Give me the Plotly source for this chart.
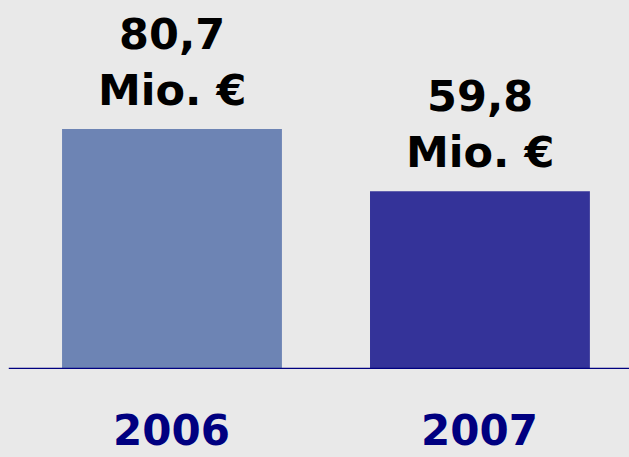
import plotly.graph_objects as go

years = ["2006", "2007"]
values = [80.7, 59.8]
value_labels = ["80,7<br>Mio. €", "59,8<br>Mio. €"]
bar_colors = ["#6d84b4", "#343399"]

xpos = list(range(len(years)))
fig = go.Figure()
fig.add_trace(go.Bar(x=xpos, y=values, marker=dict(color=bar_colors, line=dict(width=0)),
                     width=0.714, hoverinfo="skip"))

for x, v, lab in zip(xpos, values, value_labels):
    fig.add_annotation(x=x, y=v, text="<b>" + lab + "</b>", showarrow=False, yanchor="bottom",
                       yshift=12, font=dict(family="DejaVu Sans", size=43, color="#000000"),
                       xref="x", yref="y")
for x, yr in zip(xpos, years):
    fig.add_annotation(x=x, y=0, text="<b>" + yr + "</b>", showarrow=False, yanchor="bottom",
                       yshift=-87, borderpad=0,
                       font=dict(family="DejaVu Sans", size=42, color="#000080"),
                       xref="x", yref="y")

fig.add_shape(type="line", xref="paper", yref="y", x0=-0.002, x1=1, y0=0, y1=0,
              line=dict(color="#000080", width=2.5))

fig.update_layout(
    width=629, height=457,
    margin=dict(l=10, r=0, t=0, b=88),
    paper_bgcolor="#e9e9e9", plot_bgcolor="#e9e9e9",
    showlegend=False,
    xaxis=dict(range=[-0.526, 1.484], visible=False, fixedrange=True),
    yaxis=dict(range=[0, 124.1], visible=False, fixedrange=True),
    font=dict(family="DejaVu Sans"),
)

fig.write_html("out.html")
